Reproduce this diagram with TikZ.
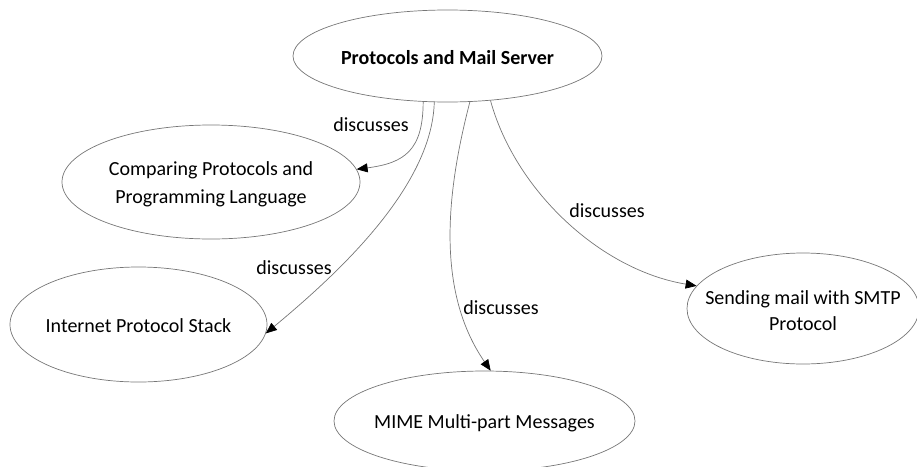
\documentclass[tikz,border=0pt]{standalone}
\usepackage{fontspec}
\setmainfont{Carlito}
\usetikzlibrary{arrows.meta,shapes.geometric}
\definecolor{outline}{RGB}{118,118,118}
\begin{document}
\begin{tikzpicture}[x=1pt,y=-1pt,
  topic/.style={ellipse, draw=outline, line width=0.7pt, inner sep=0pt},
  caption/.style={inner sep=0pt, align=center, font=\fontsize{20}{28}\selectfont},
  rel/.style={draw=outline, line width=0.7pt,
    -{Triangle[length=11pt,width=9pt,black]}},
  lbl/.style={font=\fontsize{20}{24}\selectfont, inner sep=0pt}
]
\useasboundingbox (0,0) rectangle (917,466);

% topic outlines
\node[topic, minimum width=309pt, minimum height=92pt]  (hub)  at (447.5,56)  {};
\node[topic, minimum width=298pt, minimum height=114pt] (cmp)  at (211,182)   {};
\node[topic, minimum width=257pt, minimum height=115pt] (ips)  at (138.5,324.5) {};
\node[topic, minimum width=301pt, minimum height=100pt] (mime) at (484.5,421) {};
\node[topic, minimum width=232pt, minimum height=111pt] (smtp) at (803,308.5) {};

% topic captions
\node[caption, font=\bfseries\fontsize{20}{28}\selectfont] (hub-t) at (447.5,58)
  {Protocols and Mail Server};
\node[caption] (cmp-t) at (211,184) {Comparing Protocols and\\Programming Language};
\node[caption] (ips-t) at (138.5,326) {Internet Protocol Stack};
\node[caption] (mime-t) at (484.5,423) {MIME Multi-part Messages};
\node[caption, font=\fontsize{20}{26}\selectfont] (smtp-t) at (803,311)
  {Sending mail with SMTP\\Protocol};

% relations
\draw[rel] (hub.242) .. controls (423,150) and (405,163) .. (cmp.5);
\draw[rel] (hub.254) .. controls (432,190) and (330,280) .. (ips.-4);
\draw[rel] (hub.296) .. controls (447,190) and (435,290) .. (mime.83);
\draw[rel] (hub.314) .. controls (515,190) and (600,270) .. (smtp.168);

% relation labels
\node[lbl] (l1) at (371,125) {discusses};
\node[lbl] (l2) at (294,268) {discusses};
\node[lbl] (l3) at (501,308) {discusses};
\node[lbl] (l4) at (607,211) {discusses};
\end{tikzpicture}
\end{document}
